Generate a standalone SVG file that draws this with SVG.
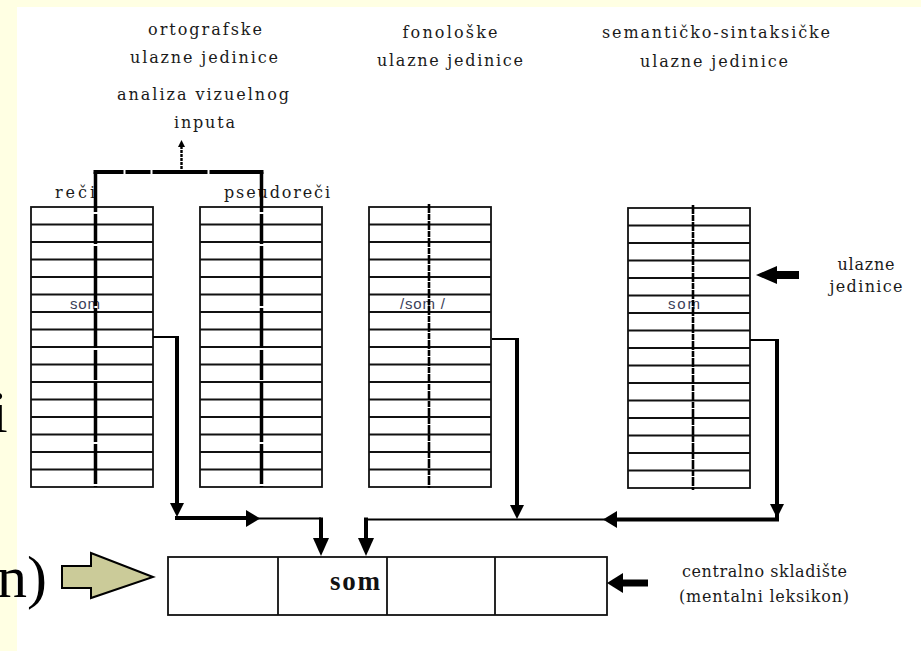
<svg xmlns="http://www.w3.org/2000/svg" xmlns:xlink="http://www.w3.org/1999/xlink" width="921" height="651" viewBox="0 0 921 651">
<style>
.lbl{font-family:"DejaVu Serif","Liberation Serif",serif;font-size:16px;fill:#1a1a1a}
.mid{text-anchor:middle}
.big{font-family:"Liberation Serif","Times New Roman",serif;font-size:60px;fill:#000}
.cell{font-family:"Liberation Sans",Arial,sans-serif;font-size:15px;fill:#3a4058}
.stk{fill:#fff;stroke:#111;stroke-width:1.8}
.row{stroke:#111;stroke-width:1.8;fill:none}
.div12{stroke:#000;stroke-width:3.5;fill:none;stroke-dasharray:40 2 30 2 60 2}
.div34{stroke:#000;stroke-width:2.6;fill:none;stroke-dasharray:9 1 6 1}
.thin{stroke:#000;stroke-width:2;fill:none}
.thick{stroke:#000;stroke-width:4;fill:none}
.ah{fill:#000}
</style>
<defs>
<g id="stack">
<rect class="stk" x="0" y="0" width="122" height="280"/>
<path class="row" d="M0 17.5H122M0 35H122M0 52.5H122M0 70H122M0 87.5H122M0 105H122M0 122.5H122M0 140H122M0 157.5H122M0 175H122M0 192.5H122M0 210H122M0 227.5H122M0 245H122M0 262.5H122"/>
</g>
</defs>
<rect x="0" y="0" width="921" height="651" fill="#fff"/>
<rect x="0" y="0" width="921" height="7" fill="#ffffe3"/>
<rect x="0" y="0" width="17" height="651" fill="#ffffe3"/>
<text class="big" x="-9" y="432">i</text>
<text class="big" x="-3" y="597">n)</text>

<g id="labels">
<text class="lbl mid" x="205" y="35" textLength="114" lengthAdjust="spacing">ortografske</text>
<text class="lbl mid" x="204" y="63" textLength="148" lengthAdjust="spacing">ulazne jedinice</text>
<text class="lbl mid" x="203" y="100" textLength="172" lengthAdjust="spacing">analiza vizuelnog</text>
<text class="lbl mid" x="204.5" y="128" textLength="61" lengthAdjust="spacing">inputa</text>
<text class="lbl mid" x="450" y="38" textLength="95" lengthAdjust="spacing">fonološke</text>
<text class="lbl mid" x="450" y="66" textLength="146" lengthAdjust="spacing">ulazne jedinice</text>
<text class="lbl mid" x="716" y="38" textLength="228" lengthAdjust="spacing">semantičko-sintaksičke</text>
<text class="lbl mid" x="714" y="67" textLength="148" lengthAdjust="spacing">ulazne jedinice</text>
<text class="lbl" x="55" y="198" textLength="40" lengthAdjust="spacing">reči</text>
<text class="lbl" x="224" y="198" textLength="106" lengthAdjust="spacing">pseudoreči</text>
<text class="lbl mid" x="866" y="270" textLength="57" lengthAdjust="spacing">ulazne</text>
<text class="lbl mid" x="866" y="292" textLength="73" lengthAdjust="spacing">jedinice</text>
<text class="lbl mid" x="764.5" y="577" textLength="165" lengthAdjust="spacing">centralno skladište</text>
<text class="lbl mid" x="764" y="602" textLength="170" lengthAdjust="spacing">(mentalni leksikon)</text>
</g>

<g id="col-reci">
<use xlink:href="#stack" href="#stack" x="31" y="207"/>
<text class="cell" x="70" y="309" textLength="30" lengthAdjust="spacing">som</text>
</g>
<g id="col-pseudoreci">
<use xlink:href="#stack" href="#stack" x="200" y="207"/>
</g>
<g id="col-fonoloske">
<use xlink:href="#stack" href="#stack" x="369" y="207"/>
<text class="cell" x="400" y="309" textLength="45" lengthAdjust="spacing">/som /</text>
<path class="div34" d="M429 204V488"/>
</g>
<g id="col-semanticke">
<use xlink:href="#stack" href="#stack" x="628" y="208"/>
<text class="cell" x="668" y="309" textLength="32" lengthAdjust="spacing">som</text>
<path class="div34" d="M693 205V490"/>
</g>

<g id="central">
<rect class="stk" x="168" y="557" width="439" height="58"/>
<path class="row" d="M278 557V615M387 557V615M495 557V615"/>
<text x="330" y="590" textLength="50" lengthAdjust="spacing" style="font-family:'Liberation Serif','Times New Roman',serif;font-size:27px;font-weight:bold;fill:#111">som</text>
</g>

<g id="olive-arrow">
<polygon points="62,566 91,566 91,553 153,577 91,598 91,588 62,588" fill="#cbcb99" stroke="#000" stroke-width="2" stroke-linejoin="miter"/>
</g>

<g id="connectors">
<path class="div12" d="M95.5 172V487"/>
<path class="div12" d="M261.5 172V487"/>
<path stroke="#000" stroke-width="4" fill="none" stroke-dasharray="30 2 25 2 55 2 60" d="M93.5 172H263.5"/>
<path stroke="#000" stroke-width="2.4" fill="none" stroke-dasharray="3 1" d="M181.5 146V172"/>
<polygon class="ah" points="178,147 185,147 181.5,140"/>
<path class="thin" d="M153 337H177"/>
<path class="thick" d="M177 336V506"/>
<polygon class="ah" points="170,503 184,503 177,517"/>
<path class="thick" d="M175 518H248"/>
<polygon class="ah" points="246,510 246,527 260,518.5"/>
<path class="thin" d="M258 518.5H321"/>
<path class="thick" d="M321 517.5V540"/>
<polygon class="ah" points="313,538 329,538 321,556"/>
<path class="thin" d="M366 519.5H605"/>
<path class="thick" d="M366 517.5V540"/>
<polygon class="ah" points="358,538 374,538 366,556"/>
<path class="thin" d="M492 339H517"/>
<path class="thick" d="M517 338V507"/>
<polygon class="ah" points="510,505 524,505 517,519"/>
<path class="thin" d="M750 340H777"/>
<path class="thick" d="M777 339V521"/>
<polygon class="ah" points="770,504 784,504 777,518"/>
<path class="thick" d="M615 519.5H779"/>
<polygon class="ah" points="617,511 617,528 603,519.5"/>
<path stroke="#000" stroke-width="7" fill="none" d="M620 583H648"/>
<polygon class="ah" points="623,573 623,593 607,583"/>
<path stroke="#000" stroke-width="8" fill="none" d="M774 275H799"/>
<polygon class="ah" points="777,266 777,284 756,275"/>
</g>
</svg>
